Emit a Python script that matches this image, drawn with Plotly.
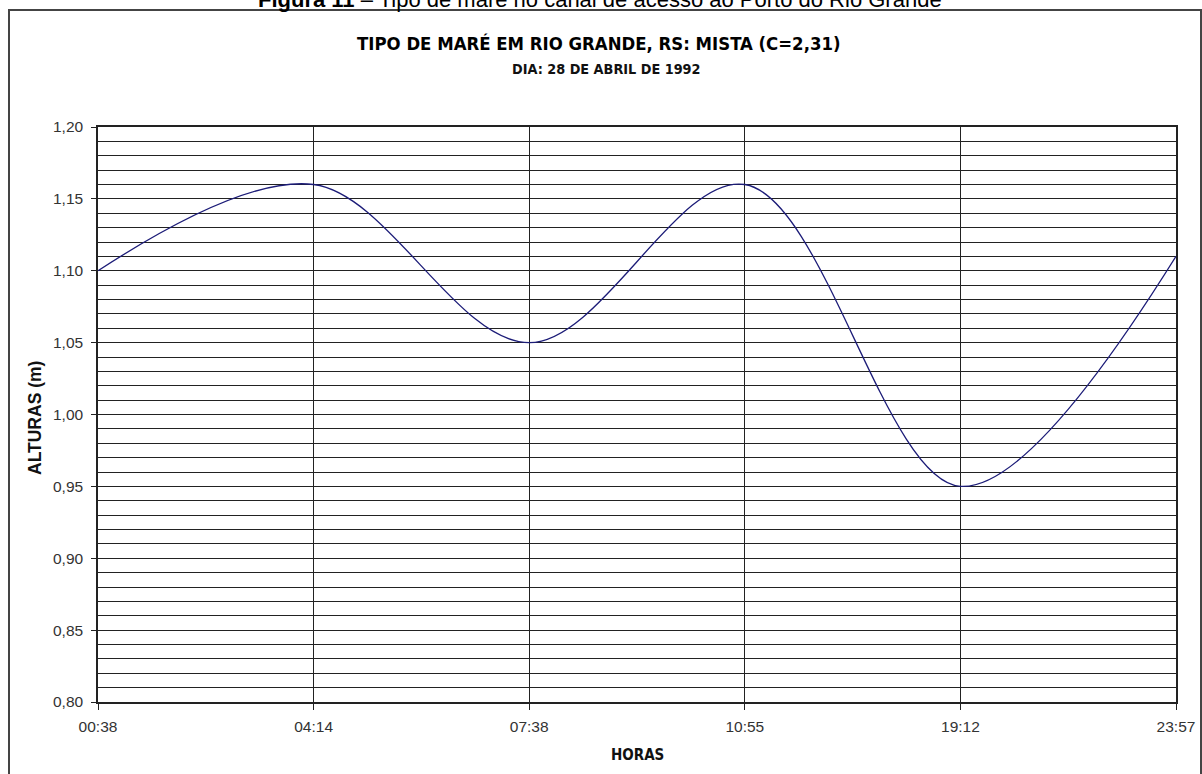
import plotly.graph_objects as go

horas = ["00:38", "04:14", "07:38", "10:55", "19:12", "23:57"]
alturas = [1.10, 1.16, 1.05, 1.16, 0.95, 1.11]
y_ticks = [0.80, 0.85, 0.90, 0.95, 1.00, 1.05, 1.10, 1.15, 1.20]

W, H = 1202, 774
L, R, T, B = 98, 1176, 127, 702

def px_x(p):
    return (p - L) / (R - L)

def px_y(p):
    return (B - p) / (B - T)

fig = go.Figure()
fig.add_trace(go.Scatter(
    x=list(range(len(horas))), y=alturas, mode="lines",
    line=dict(color="#1c1c78", width=1.3, shape="spline", smoothing=1.0),
    hoverinfo="skip", showlegend=False,
))

font_axis = "Liberation Sans, Arial, sans-serif"
font_title = "Liberation Sans Narrow, DejaVu Sans Condensed, Liberation Sans, Arial, sans-serif"

fig.update_layout(
    width=W, height=H,
    margin=dict(l=L, r=W - R, t=T, b=H - B, autoexpand=False),
    paper_bgcolor="white", plot_bgcolor="white",
    separators=", ",
    xaxis=dict(
        range=[0, len(horas) - 1], automargin=False,
        tickmode="array", tickvals=list(range(len(horas))), ticktext=horas,
        showgrid=True, gridcolor="#222222", gridwidth=1,
        showline=True, linecolor="#222222", linewidth=1.5, mirror=True,
        ticks="outside", ticklen=6, tickcolor="#222222",
        ticklabelstandoff=4,
        tickfont=dict(family=font_axis, size=15.5, color="#333333"),
        zeroline=False, fixedrange=True,
    ),
    yaxis=dict(
        range=[0.80, 1.20], automargin=False,
        tickmode="array", tickvals=y_ticks,
        tickformat=".2f",
        showgrid=True, gridcolor="#222222", gridwidth=1,
        minor=dict(dtick=0.01, tick0=0.80, showgrid=True, gridcolor="#222222", gridwidth=1, ticks=""),
        showline=True, linecolor="#222222", linewidth=1.5, mirror=True,
        ticks="outside", ticklen=5, tickcolor="#222222",
        ticklabelstandoff=5,
        tickfont=dict(family=font_axis, size=15.5, color="#333333"),
        zeroline=False, fixedrange=True,
    ),
)

# outer chart border
fig.add_shape(type="rect", xref="paper", yref="paper",
              x0=px_x(9), x1=px_x(1201), y0=px_y(790), y1=px_y(10),
              line=dict(color="#444444", width=2), fillcolor="rgba(0,0,0,0)", layer="below")

# caption (partially cut at top)
fig.add_annotation(xref="paper", yref="paper", x=px_x(600), y=px_y(0),
                   text="<b>Figura 11</b> – Tipo de maré no canal de acesso ao Porto do Rio Grande",
                   showarrow=False, xanchor="center", yanchor="middle",
                   font=dict(family=font_axis, size=22, color="#000000"))

# titles
fig.add_annotation(xref="paper", yref="paper", x=px_x(599), y=px_y(44),
                   text="<b>TIPO DE MARÉ EM RIO GRANDE, RS: MISTA (C=2,31)</b>",
                   showarrow=False, xanchor="center", yanchor="middle",
                   font=dict(family=font_title, size=18.4, color="#000000"))
fig.add_annotation(xref="paper", yref="paper", x=px_x(606), y=px_y(69),
                   text="<b>DIA: 28 DE ABRIL DE 1992</b>",
                   showarrow=False, xanchor="center", yanchor="middle",
                   font=dict(family=font_title, size=14.3, color="#111111"))
fig.add_annotation(xref="paper", yref="paper", x=px_x(637), y=px_y(755),
                   text="<b>HORAS</b>",
                   showarrow=False, xanchor="center", yanchor="middle",
                   font=dict(family=font_title, size=15, color="#111111"))
fig.add_annotation(xref="paper", yref="paper", x=px_x(35), y=px_y(418),
                   text="<b>ALTURAS (m)</b>", textangle=-90,
                   showarrow=False, xanchor="center", yanchor="middle",
                   font=dict(family=font_axis, size=17.5, color="#111111"))

fig.write_html("out.html")
